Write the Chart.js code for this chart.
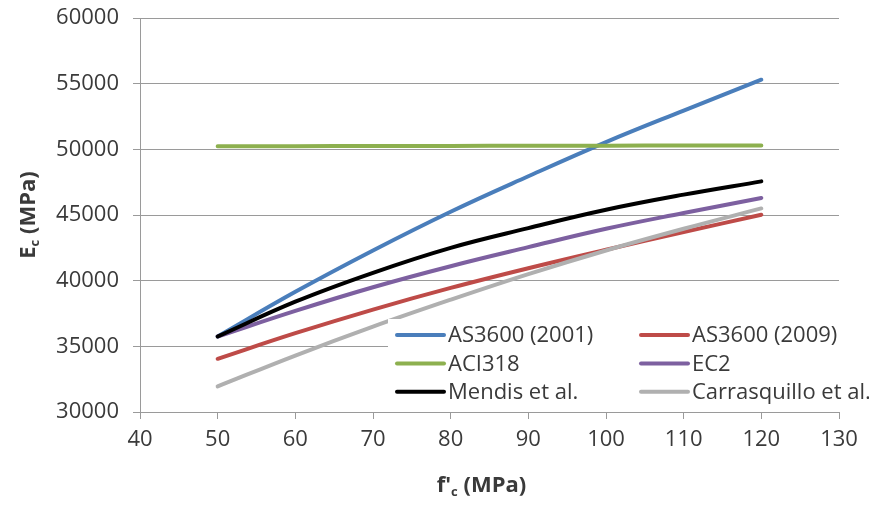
<!DOCTYPE html>
<html>
<head>
<meta charset="utf-8">
<script src="https://cdn.jsdelivr.net/npm/chart.js@4"></script>
<style>
  html, body { margin: 0; padding: 0; background: #fff; }
  #wrap { width: 869px; height: 506px; }
</style>
</head>
<body>
<div id="wrap"><canvas id="ecChart" width="869" height="506"></canvas></div>
<script>
// compressive strength f'c (MPa)
const strengths = [50, 60, 70, 80, 90, 100, 110, 120];

// elastic modulus Ec (MPa) per code / model
const as3600_2001 = [35750, 39150, 42300, 45250, 47950, 50550, 52950, 55300];
const as3600_2009 = [34050, 36000, 37800, 39450, 40950, 42350, 43700, 45020];
const aci318      = [50230, 50240, 50250, 50260, 50270, 50280, 50290, 50300];
const ec2         = [35750, 37700, 39500, 41100, 42550, 43950, 45150, 46300];
const mendis      = [35750, 38400, 40600, 42500, 44000, 45400, 46550, 47560];
const carrasquillo = [31950, 34300, 36500, 38550, 40500, 42300, 43950, 45500];

const seriesNames = ['AS3600 (2001)', 'AS3600 (2009)', 'ACI318', 'EC2', 'Mendis et al.', 'Carrasquillo et al.'];
const seriesValues = [as3600_2001, as3600_2009, aci318, ec2, mendis, carrasquillo];
const seriesColors = ['#4a7ebb', '#be4b48', '#8db04f', '#7d60a0', '#000000', '#b0b0b0'];

const FONT = "'Open Sans', sans-serif";
const TEXT = '#3a3a3a';

// legend drawn inside the plot, two columns, on a white box
const boxLegend = {
  id: 'boxLegend',
  afterDraw(chart) {
    const ctx = chart.ctx;
    ctx.save();
    ctx.fillStyle = '#fff';
    ctx.fillRect(388, 319, 476, 88);
    ctx.font = '22px ' + FONT;
    ctx.textBaseline = 'middle';
    chart.data.datasets.forEach((ds, i) => {
      const col = i % 2, row = Math.floor(i / 2);
      const x = col === 0 ? 397 : 641;
      const y = 335 + row * 28.4;
      ctx.strokeStyle = ds.borderColor;
      ctx.lineWidth = 4;
      ctx.lineCap = 'round';
      ctx.beginPath();
      ctx.moveTo(x, y);
      ctx.lineTo(x + 47, y);
      ctx.stroke();
      ctx.fillStyle = TEXT;
      ctx.fillText(ds.label, x + 51, y + 1);
    });
    ctx.restore();
  }
};

// axis titles with subscript c
const axisTitles = {
  id: 'axisTitles',
  afterDraw(chart) {
    const ctx = chart.ctx;
    const drawSub = (parts, cx, cy) => {
      let w = 0;
      parts.forEach(p => { ctx.font = p.font; w += ctx.measureText(p.t).width; });
      let x = cx - w / 2;
      parts.forEach(p => {
        ctx.font = p.font;
        ctx.fillText(p.t, x, cy + (p.dy || 0));
        x += ctx.measureText(p.t).width;
      });
    };
    const big = 'bold 22px ' + FONT;
    const small = 'bold 13px ' + FONT;
    ctx.save();
    ctx.fillStyle = TEXT;
    ctx.textBaseline = 'alphabetic';
    const area = chart.chartArea;
    drawSub([{ t: 'f\'', font: big }, { t: 'c', font: small, dy: 4 }, { t: ' (MPa)', font: big }],
      (area.left + area.right) / 2 - 8, 492);
    ctx.translate(27, (area.top + area.bottom) / 2);
    ctx.rotate(-Math.PI / 2);
    ctx.translate(0, 8);
    drawSub([{ t: 'E', font: big }, { t: 'c', font: small, dy: 4 }, { t: ' (MPa)', font: big }], 0, 0);
    ctx.restore();
  }
};

new Chart(document.getElementById('ecChart'), {
  type: 'line',
  data: {
    datasets: seriesNames.map((name, i) => ({
      label: name,
      data: strengths.map((s, j) => ({ x: s, y: seriesValues[i][j] })),
      borderColor: seriesColors[i],
      backgroundColor: seriesColors[i],
      borderWidth: 4,
      borderCapStyle: 'round',
      pointRadius: 0,
      tension: 0.4,
      fill: false,
      order: seriesNames.length - i
    }))
  },
  options: {
    responsive: false,
    animation: false,
    layout: { padding: { left: 0, right: 30, top: 18, bottom: 0 } },
    plugins: {
      legend: { display: false },
      tooltip: { enabled: false }
    },
    scales: {
      x: {
        type: 'linear',
        min: 40,
        max: 130,
        ticks: { stepSize: 10, color: TEXT, font: { family: FONT, size: 22 }, padding: 8, maxRotation: 0 },
        grid: { drawOnChartArea: false, drawTicks: true, tickLength: 7, color: '#9a9a9a' },
        border: { color: '#9a9a9a' },
        afterFit(s) { s.height = 94; s.paddingLeft = 0; s.paddingRight = 0; }
      },
      y: {
        min: 30000,
        max: 60000,
        ticks: { stepSize: 5000, color: TEXT, font: { family: FONT, size: 22 }, padding: 14,
          callback: v => String(v) },
        grid: { color: '#9a9a9a', tickLength: 7 },
        border: { color: '#9a9a9a' },
        afterFit(s) { s.width = 140; s.paddingTop = 0; s.paddingBottom = 0; }
      }
    }
  },
  plugins: [boxLegend, axisTitles]
});
</script>
</body>
</html>
